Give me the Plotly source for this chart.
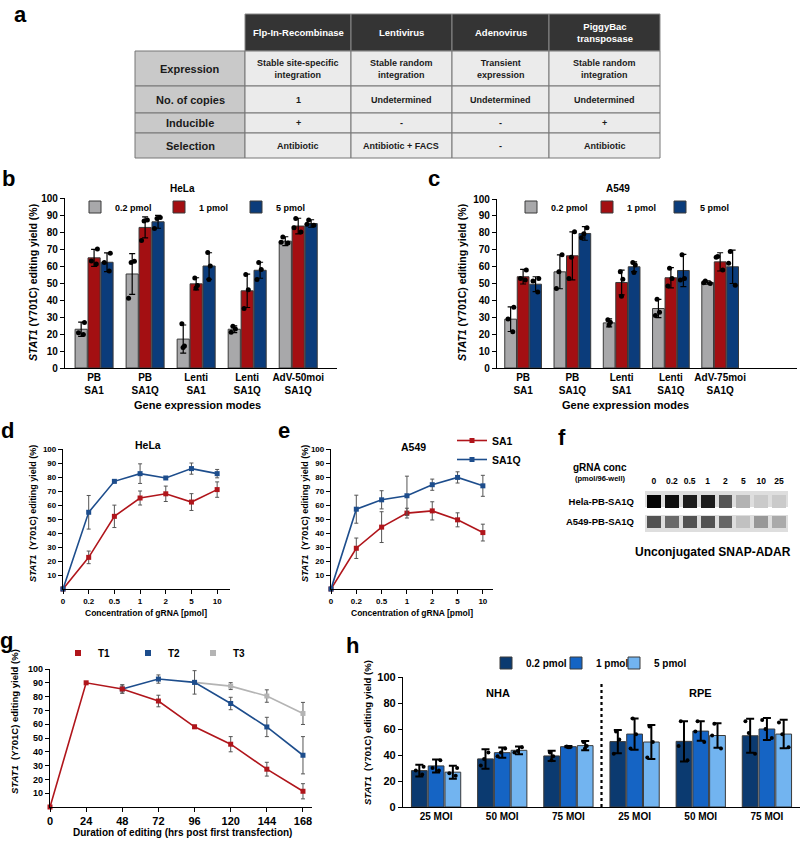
import plotly.graph_objects as go

FONT = "Liberation Sans"
W, H = 800, 841


def px(x):
    return x / W


def py(y):
    return 1 - y / H


# ---------------- Panel a: table ----------------
table_cols = ["Flp-In-Recombinase", "Lentivirus", "Adenovirus", "PiggyBac<br>transposase"]
table_rows = ["Expression", "No. of copies", "Inducible", "Selection"]
table_expression = ["Stable site-specific<br>integration", "Stable random<br>integration",
                    "Transient<br>expression", "Stable random<br>integration"]
table_copies = ["1", "Undetermined", "Undetermined", "Undetermined"]
table_inducible = ["+", "-", "-", "+"]
table_selection = ["Antibiotic", "Antibiotic + FACS", "-", "Antibiotic"]

# ---------------- Panel b: HeLa ----------------
modes_b = ["PB<br>SA1", "PB<br>SA1Q", "Lenti<br>SA1", "Lenti<br>SA1Q", "AdV-50moi<br>SA1Q"]
dose_names = ["0.2 pmol", "1 pmol", "5 pmol"]
b_mean_02 = [22.8, 55.3, 17.0, 22.8, 74.6]
b_mean_1 = [64.8, 82.7, 49.5, 45.4, 83.5]
b_mean_5 = [62.2, 86.0, 60.0, 57.5, 85.0]
b_sd_02 = [4.2, 12.0, 8.3, 2.0, 2.6]
b_sd_1 = [5.0, 6.2, 3.6, 9.8, 4.6]
b_sd_5 = [5.5, 3.8, 7.8, 4.7, 2.2]
b_rep_02 = [[19.7, 20.7, 26.8], [41.0, 62.0, 62.8], [12.0, 13.0, 26.0], [21.0, 23.0, 24.5], [73.5, 74.0, 77.0]]
b_rep_1 = [[61.2, 63.0, 70.0], [75.0, 86.5, 87.0], [47.0, 48.5, 53.0], [35.0, 46.0, 55.0], [80.0, 82.5, 88.0]]
b_rep_5 = [[57.0, 62.0, 67.5], [82.0, 88.0, 88.5], [52.0, 60.0, 68.0], [52.0, 58.0, 62.0], [84.0, 84.5, 87.0]]

# ---------------- Panel c: A549 ----------------
modes_c = ["PB<br>SA1", "PB<br>SA1Q", "Lenti<br>SA1", "Lenti<br>SA1Q", "AdV-75moi<br>SA1Q"]
c_mean_02 = [28.9, 56.9, 26.7, 35.2, 50.6]
c_mean_1 = [54.0, 66.4, 50.6, 53.4, 62.8]
c_mean_5 = [49.6, 79.6, 59.9, 57.7, 59.9]
c_sd_02 = [7.3, 10.0, 2.4, 5.4, 1.0]
c_sd_1 = [4.3, 14.2, 7.3, 6.0, 5.4]
c_sd_5 = [4.4, 4.0, 2.9, 9.5, 9.9]
c_rep_02 = [[21.5, 29.0, 36.0], [47.0, 57.0, 67.0], [25.5, 27.0, 28.5], [31.0, 33.0, 40.7], [50.0, 50.5, 51.5]]
c_rep_1 = [[52.0, 53.0, 58.0], [53.0, 65.5, 80.6], [42.5, 52.5, 57.0], [48.5, 53.0, 59.0], [58.0, 65.5, 66.0]]
c_rep_5 = [[45.0, 51.5, 53.0], [77.0, 79.5, 83.0], [56.5, 61.0, 62.5], [52.0, 53.0, 67.0], [49.0, 62.0, 69.0]]

# ---------------- Panels d / e: gRNA titration ----------------
grna_conc = ["0", "0.2", "0.5", "1", "2", "5", "10"]
d_sa1 = [0, 22.6, 51.9, 65.0, 68.0, 62.1, 71.0]
d_sa1_sd = [0, 4.5, 8.0, 5.0, 5.5, 6.0, 5.5]
d_sa1q = [0, 54.8, 76.9, 82.4, 79.3, 86.0, 82.4]
d_sa1q_sd = [0, 12.0, 1.0, 7.0, 0.5, 4.0, 3.0]
e_sa1 = [0, 29.1, 44.2, 54.2, 55.8, 49.4, 40.3]
e_sa1_sd = [0, 7.3, 11.0, 3.5, 6.5, 5.0, 6.0]
e_sa1q = [0, 57.0, 63.7, 66.6, 74.5, 79.7, 73.7]
e_sa1q_sd = [0, 10.0, 6.5, 14.0, 4.0, 4.0, 7.5]

# ---------------- Panel f: blot ----------------
f_lanes = ["0", "0.2", "0.5", "1", "2", "5", "10", "25"]
f_rows = ["A549-PB-SA1Q", "Hela-PB-SA1Q"]
f_hela = [1.0, 0.95, 0.88, 0.88, 0.6, 0.18, 0.08, 0.08]
f_a549 = [0.62, 0.5, 0.62, 0.62, 0.52, 0.12, 0.3, 0.22]

# ---------------- Panel g: time course ----------------
g_t1_hours = [0, 24, 48, 72, 96, 120, 144, 168]
g_t1 = [0, 90.0, 85.5, 76.8, 58.1, 45.5, 27.4, 11.4]
g_t1_sd = [0, 0.5, 3.0, 4.2, 1.2, 5.5, 5.0, 5.5]
g_t2_hours = [48, 72, 96, 120, 144, 168]
g_t2 = [85.5, 92.7, 90.3, 75.0, 58.0, 37.5]
g_t2_sd = [3.0, 3.0, 8.5, 4.5, 7.0, 13.5]
g_t3_hours = [96, 120, 144, 168]
g_t3 = [90.3, 87.6, 80.4, 67.8]
g_t3_sd = [0, 2.5, 4.5, 8.0]

# ---------------- Panel h: NHA / RPE ----------------
h_cell_lines = ["NHA", "NHA", "NHA", "RPE", "RPE", "RPE"]
h_moi = ["25 MOI", "50 MOI", "75 MOI", "25 MOI", "50 MOI", "75 MOI"]
h_02 = [28.0, 37.0, 39.3, 50.3, 50.5, 54.8]
h_1 = [31.6, 41.8, 46.4, 56.1, 58.4, 60.0]
h_5 = [26.8, 43.6, 47.2, 50.0, 55.0, 56.1]
h_02_sd = [4.5, 7.5, 4.0, 9.0, 15.5, 13.0]
h_1_sd = [5.0, 4.0, 0.5, 12.0, 7.5, 8.5]
h_5_sd = [5.0, 3.0, 3.5, 13.0, 9.5, 11.0]
h_rep_02 = [[25, 28, 31], [32, 37, 42], [36, 39, 42], [41, 52, 58], [36, 47, 66], [41, 57, 66]]
h_rep_1 = [[28, 30, 36], [39, 42, 45], [46, 46, 46.5], [45, 56, 68], [50, 58, 66], [53, 60, 67]]
h_rep_5 = [[24, 26, 30], [42, 43, 46], [45, 47, 50], [38, 50, 62], [45, 55, 64], [46, 56, 65]]

# ---------------- colours ----------------
GREY, RED, NAVY = "#a8a8aa", "#a30f12", "#0b3c7b"
LINE_RED, LINE_BLUE, LINE_GREY = "#b0151b", "#1d4d8c", "#b4b4b4"
H_COLS = ["#0b3a70", "#1564c4", "#72b4f0"]

BARGAP, BARGROUPGAP = 0.24, 0.06

fig = go.Figure()


def add_grouped(xa, ya, cats, means, sds, reps, colors, legends,
                err_thick=1.2, err_w=3, dot_size=5):
    for i, (m, s, r, n, c, lg) in enumerate(zip(means, sds, reps, dose_names, colors, legends)):
        grp = f"{xa}_{i}"
        fig.add_trace(go.Bar(
            x=cats, y=m, name=n, xaxis=xa, yaxis=ya, offsetgroup=grp,
            marker=dict(color=c, line=dict(color="#3a3a3a", width=1)),
            error_y=dict(type="data", array=s, color="black", thickness=err_thick, width=err_w),
            legend=lg, showlegend=True, hoverinfo="skip"))
        xs = [cat for cat, rr in zip(cats, r) for _ in rr]
        ys = [v for rr in r for v in rr]
        # replicate points, positioned by the library's box grouping (box itself invisible)
        fig.add_trace(go.Box(
            x=xs, y=ys, xaxis=xa, yaxis=ya, offsetgroup=grp, boxpoints="all", jitter=0.7,
            pointpos=0, fillcolor="rgba(0,0,0,0)", line=dict(width=0, color="rgba(0,0,0,0)"),
            whiskerwidth=0, marker=dict(color="black", size=dot_size),
            showlegend=False, hoverinfo="skip"))


# b
add_grouped("x", "y", modes_b, [b_mean_02, b_mean_1, b_mean_5], [b_sd_02, b_sd_1, b_sd_5],
            [b_rep_02, b_rep_1, b_rep_5], [GREY, RED, NAVY], ["legend", "legend2", "legend3"])
# c
add_grouped("x2", "y2", modes_c, [c_mean_02, c_mean_1, c_mean_5], [c_sd_02, c_sd_1, c_sd_5],
            [c_rep_02, c_rep_1, c_rep_5], [GREY, RED, NAVY], ["legend4", "legend5", "legend6"])
# h
h_keys = [f"{c} {m}" for c, m in zip(h_cell_lines, h_moi)]
add_grouped("x7", "y7", h_keys, [h_02, h_1, h_5], [h_02_sd, h_1_sd, h_5_sd],
            [h_rep_02, h_rep_1, h_rep_5], H_COLS, ["legend11", "legend12", "legend13"],
            err_thick=2, err_w=4, dot_size=4)


def add_line(xa, ya, x, y, sd, color, name, legend=None, showlegend=False):
    fig.add_trace(go.Scatter(
        x=x, y=y, mode="lines+markers", name=name, xaxis=xa, yaxis=ya,
        line=dict(color=color, width=1.6),
        marker=dict(symbol="square", size=5, color=color),
        error_y=dict(type="data", array=sd, color="#555555", thickness=1, width=2),
        legend=legend, showlegend=showlegend, cliponaxis=False, hoverinfo="skip"))


# d
add_line("x3", "y3", grna_conc, d_sa1, d_sa1_sd, LINE_RED, "SA1")
add_line("x3", "y3", grna_conc, d_sa1q, d_sa1q_sd, LINE_BLUE, "SA1Q")
# e
add_line("x4", "y4", grna_conc, e_sa1, e_sa1_sd, LINE_RED, "SA1", "legend7", True)
add_line("x4", "y4", grna_conc, e_sa1q, e_sa1q_sd, LINE_BLUE, "SA1Q", "legend7", True)

# f blot
fig.add_trace(go.Heatmap(
    x=f_lanes, y=f_rows, z=[f_a549, f_hela], xaxis="x5", yaxis="y5",
    colorscale=[[0, "#dcdcdc"], [0.5, "#6a6a6a"], [1, "#050505"]], zmin=0, zmax=1,
    showscale=False, xgap=4, ygap=8, hoverinfo="skip"))

# g
add_line("x6", "y6", g_t3_hours, g_t3, g_t3_sd, LINE_GREY, "T3")
add_line("x6", "y6", g_t2_hours, g_t2, g_t2_sd, LINE_BLUE, "T2")
add_line("x6", "y6", g_t1_hours, g_t1, g_t1_sd, LINE_RED, "T1")
for name, col, lg in [("T1", LINE_RED, "legend8"), ("T2", LINE_BLUE, "legend9"), ("T3", LINE_GREY, "legend10")]:
    fig.add_trace(go.Scatter(x=[None], y=[None], mode="markers", name=name, xaxis="x6", yaxis="y6",
                             marker=dict(symbol="square", size=6, color=col),
                             legend=lg, showlegend=True))


# ---------------- axes ----------------
def ax(domain, size=10, **kw):
    base = dict(domain=domain, showline=True, linecolor="black", linewidth=1.3,
                ticks="outside", ticklen=4, tickwidth=1.2, tickcolor="black",
                showgrid=False, zeroline=False, fixedrange=True,
                tickfont=dict(family=FONT, size=size, color="black", weight="bold"))
    base.update(kw)
    return base


layout_axes = dict(
    xaxis=ax([px(65), px(337)], 10, anchor="y", type="category", range=[-0.57, 4.76], ticks=""),
    yaxis=ax([py(368), py(198)], 10, anchor="x", range=[0, 100], dtick=10),
    xaxis2=ax([px(497), px(797)], 10, anchor="y2", type="category", range=[-0.53, 5.56], ticks=""),
    yaxis2=ax([py(368), py(199)], 10, anchor="x2", range=[0, 100], dtick=10),
    xaxis3=ax([px(63), px(230)], 8, anchor="y3", type="category", range=[0, 6.5]),
    yaxis3=ax([py(589), py(449)], 8, anchor="x3", range=[0, 100], tickvals=list(range(10, 101, 10))),
    xaxis4=ax([px(331), px(493)], 8, anchor="y4", type="category", range=[0, 6.4]),
    yaxis4=ax([py(589), py(449)], 8, anchor="x4", range=[0, 100], tickvals=list(range(10, 101, 10))),
    xaxis5=ax([px(645), px(788)], 8.5, anchor="y5", type="category", side="top", showline=False,
              ticks="", ticklabelstandoff=4),
    yaxis5=ax([py(532), py(491)], 9.5, anchor="x5", type="category", showline=False, ticks="",
              ticklabelstandoff=10),
    xaxis6=ax([px(50), px(312)], 11, anchor="y6", range=[0, 174], tickvals=list(range(0, 169, 24))),
    yaxis6=ax([py(807), py(669)], 9, anchor="x6", range=[0, 100], tickvals=list(range(10, 101, 10))),
    xaxis7=ax([px(403), px(800)], 10, anchor="y7", type="category", range=[-0.5, 5.5], ticks="",
              tickvals=h_keys, ticktext=h_moi),
    yaxis7=ax([py(807), py(677)], 11, anchor="x7", range=[0, 100], dtick=20),
)

# ---------------- shapes (table, blot strips, divider) ----------------
shapes = []
col_edges = [135, 245, 351, 452, 549, 660]
row_edges = [14, 51, 86, 113, 133, 158]
annotations = []


def note(text, x, y, size=10, bold=True, angle=0, xanchor="center", yanchor="middle", color="black"):
    return dict(text=text, x=px(x), y=py(y), xref="paper", yref="paper", showarrow=False,
                textangle=angle, xanchor=xanchor, yanchor=yanchor,
                font=dict(family=FONT, size=size, color=color, weight="bold" if bold else "normal"))


body = [table_expression, table_copies, table_inducible, table_selection]
for ci, head in enumerate(table_cols):
    x0, x1 = col_edges[ci + 1], col_edges[ci + 2]
    shapes.append(dict(type="rect", xref="paper", yref="paper", x0=px(x0), x1=px(x1),
                       y0=py(row_edges[1]), y1=py(row_edges[0]), fillcolor="#343434",
                       line=dict(color="#888888", width=1)))
    annotations.append(note(head, (x0 + x1) / 2, (row_edges[0] + row_edges[1]) / 2, 9.5, color="white"))
for ri, rname in enumerate(table_rows):
    y0, y1 = row_edges[ri + 1], row_edges[ri + 2]
    shapes.append(dict(type="rect", xref="paper", yref="paper", x0=px(col_edges[0]), x1=px(col_edges[1]),
                       y0=py(y1), y1=py(y0), fillcolor="#c9c9c9", line=dict(color="#777777", width=1)))
    annotations.append(note(rname, (col_edges[0] + col_edges[1]) / 2, (y0 + y1) / 2, 11, color="#1a1a1a"))
    for ci in range(4):
        x0, x1 = col_edges[ci + 1], col_edges[ci + 2]
        shapes.append(dict(type="rect", xref="paper", yref="paper", x0=px(x0), x1=px(x1),
                           y0=py(y1), y1=py(y0), fillcolor="#ebebeb", line=dict(color="#777777", width=1)))
        annotations.append(note(body[ri][ci], (x0 + x1) / 2, (y0 + y1) / 2, 9, color="#1a1a1a"))

for (ya, yb) in [(491, 507), (515, 532)]:
    shapes.append(dict(type="rect", xref="paper", yref="paper", x0=px(645), x1=px(788),
                       y0=py(yb), y1=py(ya), fillcolor="#dedede", line=dict(width=0), layer="below"))

shapes.append(dict(type="line", xref="x7", yref="y7", x0=2.5, x1=2.5, y0=0, y1=95,
                   line=dict(color="black", width=2.2, dash="dot")))

# ---------------- annotations ----------------
ytitle_wide = "<i>STAT1</i> (Y701C) editing yield (%)"
ytitle = "<i>STAT1</i>  (Y701C) editing yield (%)"
annotations += [
    note("a", 20, 15, 22), note("b", 8, 179, 22), note("c", 434, 179, 22),
    note("d", 7, 430, 22), note("e", 284, 430, 22), note("f", 562, 437, 22),
    note("g", 6, 640, 22), note("h", 352, 645, 22),
    note("HeLa", 182, 188, 10), note("A549", 618, 188, 10),
    note("HeLa", 148, 445, 10.5), note("A549", 413, 447, 10.5),
    note("Gene expression modes", 197, 405, 11), note("Gene expression modes", 625, 405, 11),
    note("Concentration of gRNA [pmol]", 146, 613, 8.5), note("Concentration of gRNA [pmol]", 412, 613, 8.5),
    note("Duration of editing (hrs post first transfection)", 182, 832, 10),
    note(ytitle_wide, 33, 283, 10.5, angle=-90), note(ytitle_wide, 462, 283, 10.5, angle=-90),
    note(ytitle, 33, 514, 9, angle=-90), note(ytitle, 305, 514, 9, angle=-90),
    note(ytitle, 14, 722, 9.5, angle=-90), note(ytitle, 367, 733, 9.5, angle=-90),
    note("gRNA conc", 600, 467, 10), note("(pmol/96-well)", 600, 478, 7.5),
    note("Unconjugated SNAP-ADAR", 713, 552, 12),
    note("NHA", 498, 693, 11), note("RPE", 700, 693, 11),
]


def leg(center_x, center_y, size=9, orientation="h", yanchor="middle"):
    """Legend whose first symbol is centred near (center_x, center_y) in pixels."""
    return dict(x=px(center_x - 20), y=py(center_y), xanchor="left", yanchor=yanchor,
                orientation=orientation,
                font=dict(family=FONT, size=size, color="black", weight="bold"),
                bgcolor="rgba(0,0,0,0)", tracegroupgap=0, itemclick=False, itemdoubleclick=False)


fig.update_layout(
    width=W, height=H, margin=dict(l=0, r=0, t=0, b=0, autoexpand=False),
    paper_bgcolor="white", plot_bgcolor="white",
    barmode="group", bargap=BARGAP, bargroupgap=BARGROUPGAP,
    boxmode="group", boxgap=BARGAP, boxgroupgap=BARGROUPGAP,
    showlegend=True,
    legend=leg(95, 207, 9), legend2=leg(179, 207, 9), legend3=leg(256, 207, 9),
    legend4=leg(531, 207, 9), legend5=leg(607, 207, 9), legend6=leg(680, 207, 9),
    legend7=leg(472, 426, 10.5, orientation="v", yanchor="top"),
    legend8=leg(78, 653, 10), legend9=leg(148, 653, 10), legend10=leg(213, 653, 10),
    legend11=leg(506, 663, 10), legend12=leg(576, 663, 10), legend13=leg(634, 663, 10),
    shapes=shapes, annotations=annotations,
    **layout_axes,
)

fig.write_html("out.html", config={"displayModeBar": False},
               post_script="document.body.style.margin='0';document.body.style.overflow='hidden';")
